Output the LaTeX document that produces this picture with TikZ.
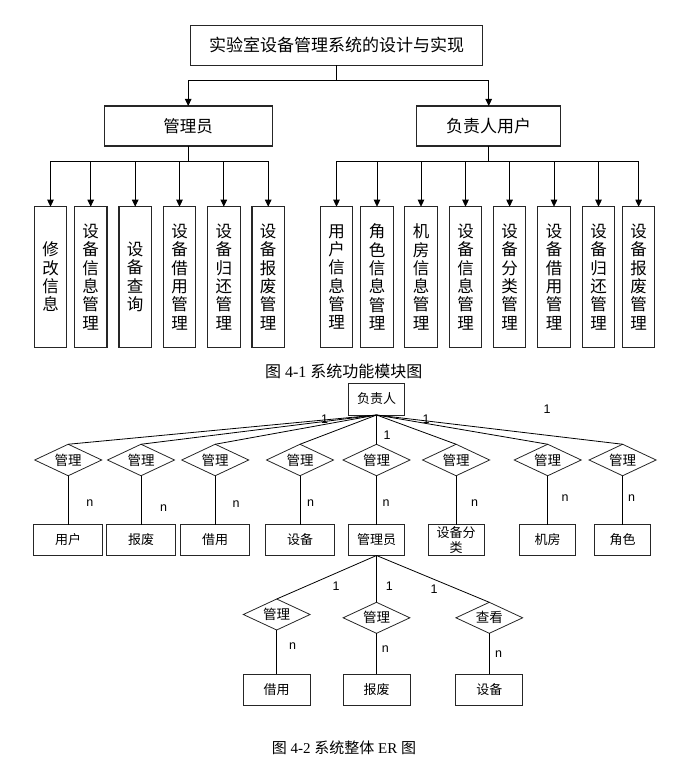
\documentclass[tikz,border=0pt]{standalone}
\usepackage{fontspec}
\setmainfont{Liberation Serif}
\newfontfamily\cjk{Noto Sans CJK SC}
\newfontfamily\arial{Liberation Sans}
\usetikzlibrary{arrows.meta,shapes.geometric}
\begin{document}
\begin{tikzpicture}[x=1pt,y=-1pt,
  every node/.style={inner sep=0pt, outer sep=0pt},
  bx/.style={draw=black!85, line width=1.1pt},
  vbx/.style={bx, minimum width=32.5pt, minimum height=140.6pt, align=center, font=\cjk\fontsize{16.5}{18.3}\selectfont},
  ln/.style={line width=0.8pt, draw=black},
  arr/.style={ln, -{Triangle[length=7pt,width=6.5pt]}},
  rel/.style={diamond, aspect=2.1, draw=black!85, line width=0.8pt, minimum width=67pt, minimum height=31.5pt, font=\cjk\fontsize{13.5}{15}\selectfont},
  ent/.style={draw=black!85, line width=1pt, minimum width=68.5pt, minimum height=31pt, align=center, font=\cjk\fontsize{13}{15.5}\selectfont},
  card/.style={font=\arial\fontsize{12.5}{14}\selectfont}
]
\useasboundingbox (0,0) rectangle (697,757);

% ---------- Fig 4-1 ----------
\node[bx, minimum width=292pt, minimum height=40pt, font=\cjk\fontsize{17}{20}\selectfont] (title) at (336.5,45.3) {实验室设备管理系统的设计与实现};
\node[bx, minimum width=168pt, minimum height=40pt, font=\cjk\fontsize{16.5}{20}\selectfont] (adm) at (188.2,126) {管理员};
\node[bx, minimum width=144pt, minimum height=40pt, font=\cjk\fontsize{17}{20}\selectfont] (fzr) at (488.7,126) {负责人用户};

\draw[ln] (title.south) -- ++(0,15.4) coordinate (tb);
\draw[ln] (tb -| adm.north) -- (tb -| fzr.north);
\draw[arr] (tb -| adm.north) -- (adm.north);
\draw[arr] (tb -| fzr.north) -- (fzr.north);

\node[vbx] (a1) at (50.5,277) {修\\改\\信\\息};
\node[vbx] (a2) at (90.7,277) {设\\备\\信\\息\\管\\理};
\node[vbx] (a3) at (135.2,277) {设\\备\\查\\询};
\node[vbx] (a4) at (179.5,277) {设\\备\\借\\用\\管\\理};
\node[vbx] (a5) at (223.8,277) {设\\备\\归\\还\\管\\理};
\node[vbx] (a6) at (268.2,277) {设\\备\\报\\废\\管\\理};

\node[vbx] (b1) at (336.5,277) {用\\户\\信\\息\\管\\理};
\node[vbx] (b2) at (377,277) {角\\色\\信\\息\\管\\理};
\node[vbx] (b3) at (421,277) {机\\房\\信\\息\\管\\理};
\node[vbx] (b4) at (465.5,277) {设\\备\\信\\息\\管\\理};
\node[vbx] (b5) at (509.6,277) {设\\备\\分\\类\\管\\理};
\node[vbx] (b6) at (554,277) {设\\备\\借\\用\\管\\理};
\node[vbx] (b7) at (598.5,277) {设\\备\\归\\还\\管\\理};
\node[vbx] (b8) at (638.6,277) {设\\备\\报\\废\\管\\理};

\draw[ln] (adm.south) -- ++(0,15.3) coordinate (lb);
\draw[ln] (lb -| a1.north) -- (lb -| a6.north);
\foreach \i in {1,...,6} \draw[arr] (lb -| a\i.north) -- (a\i.north);

\draw[ln] (fzr.south) -- ++(0,15.3) coordinate (rb);
\draw[ln] (rb -| b1.north) -- (rb -| b8.north);
\foreach \i in {1,...,8} \draw[arr] (rb -| b\i.north) -- (b\i.north);

\node[font=\fontsize{16}{18}\selectfont] (cap1) at (343.7,371.7) {{\cjk 图} 4-1 {\cjk 系统功能模块图}};

% ---------- Fig 4-2 ----------
\node[ent, minimum width=56.5pt, minimum height=32pt] (fz) at (376.6,399) {负责人};

\node[rel] (r1) at (68.2,460) {管理};
\node[rel] (r2) at (141,460) {管理};
\node[rel] (r3) at (215.2,460) {管理};
\node[rel] (r4) at (300,460) {管理};
\node[rel] (r5) at (376.5,460) {管理};
\node[rel] (r6) at (456.1,460) {管理};
\node[rel] (r7) at (547.7,460) {管理};
\node[rel] (r8) at (622.6,460) {管理};

\node[ent] (e1) at (68.2,540) {用户};
\node[ent] (e2) at (141,540) {报废};
\node[ent] (e3) at (215.2,540) {借用};
\node[ent] (e4) at (300,540) {设备};
\node[ent, minimum width=56.5pt] (e5) at (376.5,540) {管理员};
\node[ent, minimum width=56pt] (e6) at (456.1,540) {设备分\\类};
\node[ent, minimum width=56pt] (e7) at (547.7,540) {机房};
\node[ent, minimum width=56pt] (e8) at (622.6,540) {角色};

\foreach \i in {1,...,8} {
  \draw[ln] (fz.south) -- (r\i.north);
  \draw[ln] (r\i.south) -- (e\i.north);
}

\node[card] (o1) at (324.7,419.3) {1};
\node[card] (o2) at (426.2,419.3) {1};
\node[card] (o3) at (387,435) {1};
\node[card] (o4) at (547.2,409) {1};

\node[card] (n1) at (89.9,503.3) {n};
\node[card] (n2) at (163.7,508.3) {n};
\node[card] (n3) at (236.2,504) {n};
\node[card] (n4) at (310.5,502.7) {n};
\node[card] (n5) at (386.1,502.7) {n};
\node[card] (n6) at (474.6,502.7) {n};
\node[card] (n7) at (565,498.3) {n};
\node[card] (n8) at (631.7,498.3) {n};

\node[rel, minimum width=66.7pt, minimum height=31pt] (s1) at (276.7,614.5) {管理};
\node[rel, minimum width=66.7pt, minimum height=31pt] (s2) at (376.5,617.8) {管理};
\node[rel, minimum width=66.7pt, minimum height=31pt] (s3) at (489.3,617.8) {查看};

\node[ent, minimum width=67pt] (f1) at (276.7,689.5) {借用};
\node[ent, minimum width=67pt] (f2) at (376.5,689.5) {报废};
\node[ent, minimum width=67pt] (f3) at (489.3,689.5) {设备};

\foreach \i in {1,2,3} {
  \draw[ln] (e5.south) -- (s\i.north);
  \draw[ln] (s\i.south) -- (f\i.north);
}

\node[card] (p1) at (336,586) {1};
\node[card] (p2) at (389.3,586) {1};
\node[card] (p3) at (434,589.3) {1};
\node[card] (q1) at (292.7,646) {n};
\node[card] (q2) at (385.3,648.7) {n};
\node[card] (q3) at (498.7,654.3) {n};

\node[font=\fontsize{15}{17}\selectfont] (cap2) at (344,747.3) {{\cjk 图} 4-2 {\cjk 系统整体} ER {\cjk 图}};
\end{tikzpicture}
\end{document}
